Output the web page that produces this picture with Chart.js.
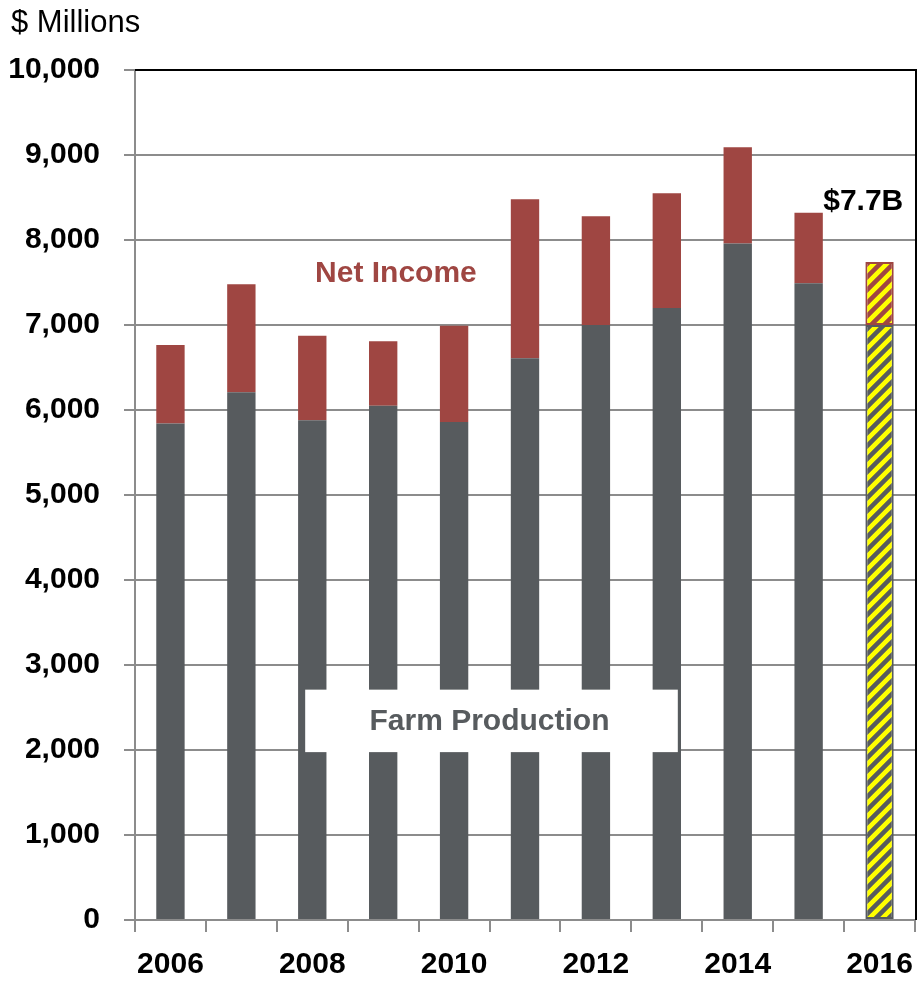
<!DOCTYPE html>
<html>
<head>
<meta charset="utf-8">
<script src="https://cdn.jsdelivr.net/npm/chart.js@4/dist/chart.umd.min.js"></script>
<style>
  html, body { margin: 0; padding: 0; background: #fff; }
  canvas { display: block; }
</style>
</head>
<body>
<canvas id="farm-chart" width="917" height="983"></canvas>
<script>
// data ($ millions)
const years = ['2006', '2007', '2008', '2009', '2010', '2011', '2012', '2013', '2014', '2015', '2016'];
const farmProduction = [5840, 6210, 5880, 6050, 5860, 6610, 7000, 7200, 7960, 7490, 7000];
const netIncome = [925, 1270, 995, 760, 1130, 1870, 1280, 1350, 1130, 830, 740];
const yTicks = [0, 1000, 2000, 3000, 4000, 5000, 6000, 7000, 8000, 9000, 10000];

const GRAY = '#575b5e';
const RED = '#9f4642';
const FONT = "'Liberation Sans', Arial, sans-serif";

// yellow hatch for the 2016 estimate
function hatch(stripe) {
  const c = document.createElement('canvas');
  c.width = 13; c.height = 13;
  const g = c.getContext('2d');
  g.fillStyle = '#ffff00';
  g.fillRect(0, 0, 13, 13);
  g.strokeStyle = stripe;
  g.lineWidth = 4.5;
  g.beginPath();
  g.moveTo(-3, 16); g.lineTo(16, -3);
  g.moveTo(-10, 10); g.lineTo(10, -10);
  g.moveTo(3, 23); g.lineTo(23, 3);
  g.stroke();
  return g.createPattern(c, 'repeat');
}

const last = years.length - 1;
const colorsFor = (base, pattern) => years.map((y, i) => i === last ? pattern : base);
const widths = years.map((y, i) => i === last ? 2 : 0);

// texts on the plot
const notes = {
  id: 'notes',
  afterDatasetsDraw(chart) {
    const { ctx, chartArea, scales: { x, y } } = chart;
    const step = x.getPixelForValue(1) - x.getPixelForValue(0);
    ctx.save();
    // Farm Production box
    const bx0 = x.getPixelForValue(2) - 0.1 * step;
    const bx1 = x.getPixelForValue(7) + 0.155 * step;
    const by0 = y.getPixelForValue(2710);
    const by1 = y.getPixelForValue(1975);
    ctx.fillStyle = '#fff';
    ctx.fillRect(bx0, by0, bx1 - bx0, by1 - by0);
    ctx.textAlign = 'center';
    ctx.textBaseline = 'middle';
    ctx.font = 'bold 30px ' + FONT;
    ctx.fillStyle = GRAY;
    ctx.fillText('Farm Production', (bx0 + bx1) / 2 - 2, (by0 + by1) / 2 + 1);
    ctx.fillStyle = RED;
    ctx.fillText('Net Income', x.getPixelForValue(3.18), y.getPixelForValue(7600));
    ctx.fillStyle = '#000';
    ctx.fillText('$7.7B', x.getPixelForValue(9.77), y.getPixelForValue(8450));
    // frame top and right
    ctx.strokeStyle = '#000';
    ctx.lineWidth = 2;
    ctx.beginPath();
    ctx.moveTo(chartArea.left, chartArea.top);
    ctx.lineTo(chartArea.right + 1, chartArea.top);
    ctx.lineTo(chartArea.right + 1, chartArea.bottom);
    ctx.stroke();
    // unit label
    ctx.textAlign = 'left';
    ctx.font = '31px ' + FONT;
    ctx.fillText('$ Millions', 11, 23);
    ctx.restore();
  }
};

new Chart(document.getElementById('farm-chart'), {
  type: 'bar',
  data: {
    labels: years,
    datasets: [{
      label: 'Farm Production',
      data: farmProduction,
      backgroundColor: colorsFor(GRAY, hatch(GRAY)),
      borderColor: GRAY,
      borderWidth: widths,
      borderSkipped: false
    }, {
      label: 'Net Income',
      data: netIncome,
      backgroundColor: colorsFor(RED, hatch(RED)),
      borderColor: RED,
      borderWidth: widths,
      borderSkipped: false
    }]
  },
  options: {
    responsive: false,
    animation: false,
    layout: { padding: { top: 70, right: 2, left: 0, bottom: 0 } },
    plugins: { legend: { display: false }, tooltip: { enabled: false } },
    datasets: { bar: { categoryPercentage: 1, barPercentage: 0.4 } },
    scales: {
      x: {
        stacked: true,
        afterFit: (s) => { s.height = 63; s.paddingLeft = 0; s.paddingRight = 0; },
        border: { color: '#8c8c8c', width: 2 },
        grid: { drawOnChartArea: false, color: '#8c8c8c', lineWidth: 2, tickLength: 12, offset: true },
        ticks: {
          autoSkip: false,
          maxRotation: 0,
          padding: 15,
          color: '#000',
          font: { family: FONT, size: 30, weight: 'bold' },
          callback: (v, i) => i % 2 === 0 ? years[i] : ''
        }
      },
      y: {
        stacked: true,
        min: 0,
        max: 10000,
        afterFit: (s) => { s.width = 135; },
        afterBuildTicks: (s) => { s.ticks = yTicks.map(v => ({ value: v })); },
        border: { color: '#8c8c8c', width: 2 },
        grid: { color: '#8c8c8c', lineWidth: 2, tickLength: 11 },
        ticks: {
          padding: 24,
          color: '#000',
          font: { family: FONT, size: 30, weight: 'bold' },
          callback: (v) => v.toLocaleString('en-US')
        }
      }
    }
  },
  plugins: [notes]
});
</script>
</body>
</html>
